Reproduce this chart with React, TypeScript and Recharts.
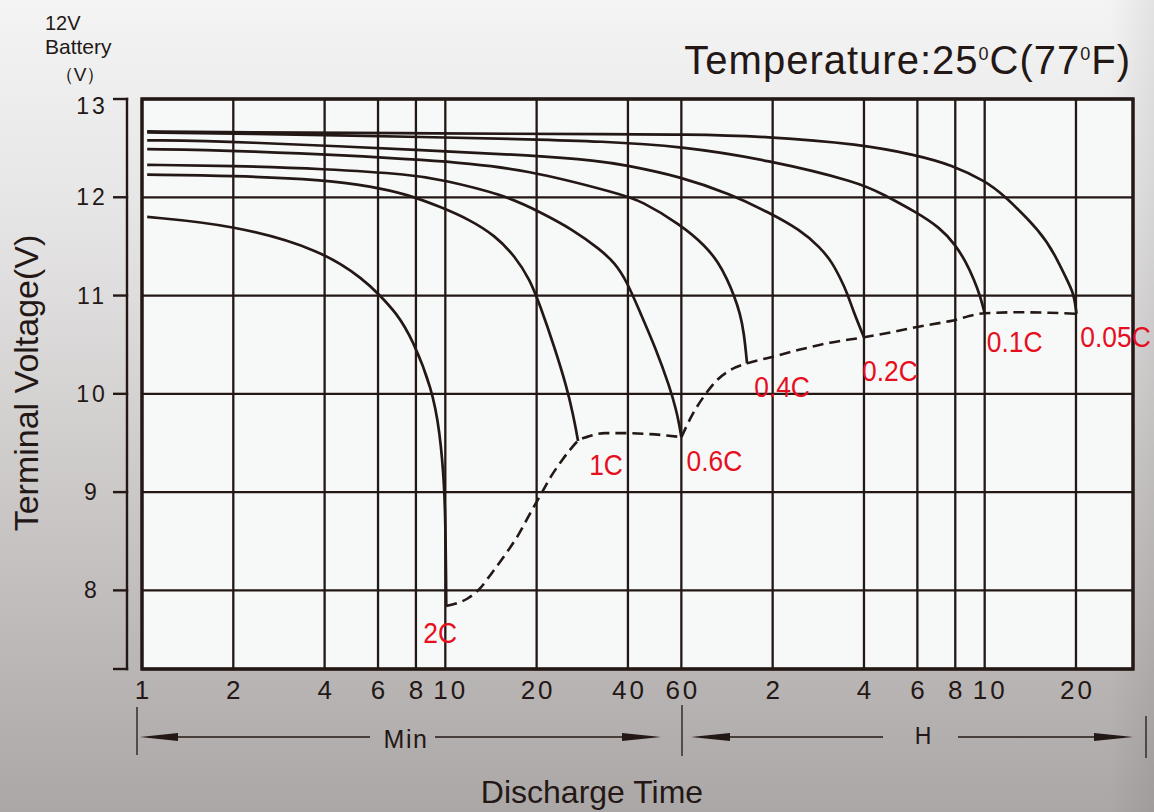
import React from 'react';
import { LineChart, Line, XAxis, YAxis, CartesianGrid, ReferenceArea, LabelList } from 'recharts';

const INK = '#231815';
const RED = '#e60f1f';
const FONT = '"Liberation Sans", Arial, Helvetica, sans-serif';

const W = 1154;
const H = 812;
const PLOT_LEFT = 142;
const PLOT_TOP = 99;
const PLOT_RIGHT = 1133;
const PLOT_BOTTOM = 669;
const Y_AXIS_W = 60;
const X_AXIS_H = 40;

// x = discharge time in minutes (log axis), y = terminal voltage of a 12V battery
const timeTicks = [1, 2, 4, 6, 8, 10, 20, 40, 60, 120, 240, 360, 480, 600, 1200];
const timeTickLabels = ['1', '2', '4', '6', '8', '10', '20', '40', '60', '2', '4', '6', '8', '10', '20'];
const voltTicks = [8, 9, 10, 11, 12, 13];
const timeDomain = [1, 1850];
const voltDomain = [7.2, 13];

const rateNames = ['2C', '1C', '0.6C', '0.4C', '0.2C', '0.1C', '0.05C'];

const curve2C = [
  [1.04, 11.8], [2, 11.72], [3.95, 11.46], [5.44, 11.15], [6, 11.02], [6.92, 10.82], [7.81, 10.55],
  [9.04, 10.05], [9.58, 9.63], [9.955, 9.05], [10.03, 8.44], [10.06, 8.1], [10.07, 7.84],
];
const curve1C = [
  [1.04, 12.23], [2, 12.22], [3.95, 12.18], [5.73, 12.11], [7.48, 12.03], [9.68, 11.9], [12.06, 11.77],
  [14.58, 11.61], [16.98, 11.4], [19.02, 11.16], [20.52, 10.9], [22.82, 10.49], [25.19, 10.06],
  [26.37, 9.79], [26.98, 9.63], [27.39, 9.52],
];
const curve06C = [
  [1.04, 12.33], [2, 12.32], [3.95, 12.29], [7.83, 12.23], [9.68, 12.18], [15.49, 12.03], [20.52, 11.85],
  [26.37, 11.67], [32.36, 11.47], [36.27, 11.33], [39.72, 11.14], [43.85, 10.83], [49.14, 10.48],
  [55.07, 10.06], [57.63, 9.84], [58.95, 9.7], [60, 9.56],
];
const curve04C = [
  [1.04, 12.49], [2, 12.48], [9.68, 12.38], [18.88, 12.28], [37.96, 12.03], [43.85, 11.97], [59.86, 11.72],
  [72.35, 11.5], [79.28, 11.34], [84.88, 11.17], [89.52, 11.0], [93.69, 10.82], [96.56, 10.62], [98.79, 10.31],
];
const curve02C = [
  [1.04, 12.58], [2, 12.57], [9.68, 12.47], [18.88, 12.43], [32.36, 12.37], [38.74, 12.33], [59.86, 12.21],
  [87.3, 12.03], [115.9, 11.85], [147.7, 11.67], [172, 11.49], [188.4, 11.34], [201.7, 11.16],
  [211.1, 11.03], [222.6, 10.82], [240, 10.575],
];
const curve01C = [
  [1.04, 12.66], [2, 12.65], [9.68, 12.61], [18.88, 12.59], [32.36, 12.57], [59.86, 12.52], [115.9, 12.38],
  [233, 12.15], [276.8, 12.03], [356.3, 11.85], [427.6, 11.69], [479.3, 11.52], [521.1, 11.34],
  [553.6, 11.16], [579.4, 11.0], [600, 10.82],
];
const curve005C = [
  [1.04, 12.67], [2, 12.66], [9.68, 12.65], [37.96, 12.64], [59.86, 12.64], [115.9, 12.62], [233, 12.54],
  [356.3, 12.43], [467, 12.33], [606.5, 12.16], [690, 12.03], [925.5, 11.64], [1023.8, 11.41],
  [1121.5, 11.16], [1174, 11.03], [1192, 10.92], [1205, 10.815],
];

// end-of-discharge voltage (dashed)
const endVoltA = [
  [10.07, 7.84], [10.93, 7.87], [11.88, 7.92], [13.01, 8.02], [14.26, 8.18], [15.73, 8.36], [17.37, 8.56],
  [19.02, 8.78], [20.68, 8.98], [22.31, 9.16], [24.07, 9.31], [25.77, 9.43], [27.39, 9.52], [30, 9.57],
  [33.62, 9.6], [39.13, 9.6], [47.3, 9.59], [60, 9.56],
];
const endVoltB = [
  [60, 9.56], [65.57, 9.8], [71.82, 9.99], [78.66, 10.14], [86.84, 10.24], [98.79, 10.31], [117.6, 10.37],
  [147.7, 10.45], [185.5, 10.52], [240, 10.575], [299.3, 10.63], [359.1, 10.68], [461.3, 10.74],
  [600, 10.82], [784.9, 10.83], [985.8, 10.825], [1205, 10.815],
];

const pts = (a: number[][]) => a.map(([t, v]) => ({ t, v }));
const curves = [curve2C, curve1C, curve06C, curve04C, curve02C, curve01C, curve005C].map(pts);

const labelOffset: Record<string, [number, number]> = {
  '2C': [-6, 26],
  '1C': [28, 23],
  '0.6C': [33, 23],
  '0.4C': [35, 23],
  '0.2C': [26, 33],
  '0.1C': [30, 28],
  '0.05C': [39, 23],
};

const XTick = (props: any) => {
  const { x, payload } = props;
  const i = timeTicks.indexOf(payload.value);
  const label = timeTickLabels[i] ?? String(payload.value);
  return (
    <text
      x={x + 1.5 + (label === '10' ? 4 : 0)}
      y={PLOT_BOTTOM + 30}
      textAnchor="middle"
      fontSize={26}
      letterSpacing={3}
      fill={INK}
      fontFamily={FONT}
    >
      {label}
    </text>
  );
};

const YTick = (props: any) => {
  const { y, payload } = props;
  const v = payload.value;
  return (
    <g>
      <line x1={113} x2={128.2} y1={y} y2={y} stroke={INK} strokeWidth={2.4} />
      {v === 13 && (
        <>
          <line x1={127} x2={127} y1={y - 1.2} y2={PLOT_BOTTOM + 1.2} stroke={INK} strokeWidth={2.4} />
          <line x1={113} x2={128.2} y1={PLOT_BOTTOM} y2={PLOT_BOTTOM} stroke={INK} strokeWidth={2.4} />
        </>
      )}
      <text
        x={92}
        y={y + 8 + (v === 13 ? 7 : 0)}
        textAnchor="middle"
        fontSize={23}
        letterSpacing={3}
        fill={INK}
        fontFamily={FONT}
      >
        {v}
      </text>
    </g>
  );
};

const rateLabel = (name: string, last: number) => (p: any) => {
  if (p.index !== last) return null;
  const [dx, dy] = labelOffset[name];
  return (
    <text
      transform={`translate(${p.x + dx},${p.y + dy + 10.5}) scale(0.88,1)`}
      textAnchor="middle"
      fontSize={30}
      fill={RED}
      fontFamily={FONT}
    >
      {name}
    </text>
  );
};

const Arrow = ({ tip, base }: { tip: number; base: number }) => (
  <polygon points={`${tip},737 ${base},733 ${base},741`} fill={INK} />
);

export default function App() {
  return (
    <div
      style={{
        position: 'absolute',
        left: 0,
        top: 0,
        width: W,
        height: H,
        overflow: 'hidden',
        background:
          'linear-gradient(90deg, rgba(0,0,0,0) 96%, rgba(0,0,0,0.07) 100%), linear-gradient(180deg, #f4f4f4 0%, #e7e6e6 25%, #d4d1d1 50%, #c0bcbb 75%, #aba7a6 100%)',
      }}
    >
      <LineChart
        width={W}
        height={H}
        margin={{
          top: PLOT_TOP,
          right: W - PLOT_RIGHT,
          bottom: H - PLOT_BOTTOM - X_AXIS_H,
          left: PLOT_LEFT - Y_AXIS_W,
        }}
      >
        <CartesianGrid stroke={INK} strokeWidth={2.3} fill="#f7f9f9" fillOpacity={1} />
        <XAxis
          dataKey="t"
          type="number"
          scale="log"
          domain={timeDomain}
          allowDataOverflow
          ticks={timeTicks}
          interval={0}
          height={X_AXIS_H}
          axisLine={false}
          tickLine={false}
          tick={(p: any) => <XTick {...p} />}
        />
        <YAxis
          type="number"
          domain={voltDomain}
          allowDataOverflow
          ticks={voltTicks}
          interval={0}
          width={Y_AXIS_W}
          axisLine={false}
          tickLine={false}
          tick={(p: any) => <YTick {...p} />}
        />
        <ReferenceArea
          x1={timeDomain[0]}
          x2={timeDomain[1]}
          y1={voltDomain[0]}
          y2={voltDomain[1]}
          fill="none"
          fillOpacity={0}
          stroke={INK}
          strokeWidth={3.4}
        />
        {curves.map((data, i) => (
          <Line
            key={rateNames[i]}
            data={data}
            dataKey="v"
            type="basis"
            stroke={INK}
            strokeWidth={2.7}
            dot={false}
            activeDot={false}
            isAnimationActive={false}
          >
            <LabelList dataKey="v" content={rateLabel(rateNames[i], data.length - 1)} />
          </Line>
        ))}
        {[endVoltA, endVoltB].map((a, i) => (
          <Line
            key={'end' + i}
            data={pts(a)}
            dataKey="v"
            type="monotone"
            stroke={INK}
            strokeWidth={2.6}
            strokeDasharray="11 6"
            dot={false}
            activeDot={false}
            isAnimationActive={false}
          />
        ))}
      </LineChart>

      <svg
        width={W}
        height={H}
        style={{ position: 'absolute', left: 0, top: 0, pointerEvents: 'none' }}
        fontFamily={FONT}
      >
        <text x={45} y={30} fontSize={20} fill={INK}>12V</text>
        <text x={45} y={54} fontSize={21} fill={INK}>Battery</text>
        <text x={80} y={81} fontSize={19} textAnchor="middle" fill={INK}>（V）</text>
        <text x={1131} y={74} fontSize={40} letterSpacing={1} textAnchor="end" fill={INK}>
          Temperature:25<tspan fontSize={18} dy={-14}>0</tspan>
          <tspan dy={14}>C(77</tspan>
          <tspan fontSize={18} dy={-14}>0</tspan>
          <tspan dy={14}>F)</tspan>
        </text>
        <text transform="translate(38,383) rotate(-90)" textAnchor="middle" fontSize={34} fill={INK}>
          Terminal Voltage(V)
        </text>
        <text x={592} y={803} textAnchor="middle" fontSize={32} fill={INK}>Discharge Time</text>

        {/* Min bracket */}
        <line x1={137} x2={137} y1={707} y2={755} stroke={INK} strokeWidth={1.3} />
        <Arrow tip={140} base={178} />
        <line x1={176} x2={370} y1={737} y2={737} stroke={INK} strokeWidth={1.6} />
        <text x={406} y={748} textAnchor="middle" fontSize={25} letterSpacing={1.5} fill={INK}>Min</text>
        <line x1={435} x2={624} y1={737} y2={737} stroke={INK} strokeWidth={1.6} />
        <Arrow tip={661} base={622} />
        <line x1={682} x2={682} y1={705} y2={756} stroke={INK} strokeWidth={1.3} />

        {/* H bracket */}
        <Arrow tip={691} base={730} />
        <line x1={728} x2={883} y1={737} y2={737} stroke={INK} strokeWidth={1.6} />
        <text x={923} y={744} textAnchor="middle" fontSize={23} fill={INK}>H</text>
        <line x1={958} x2={1096} y1={737} y2={737} stroke={INK} strokeWidth={1.6} />
        <Arrow tip={1133} base={1094} />
        <line x1={1146} x2={1146} y1={716} y2={758} stroke={INK} strokeWidth={1.3} />
      </svg>
    </div>
  );
}
